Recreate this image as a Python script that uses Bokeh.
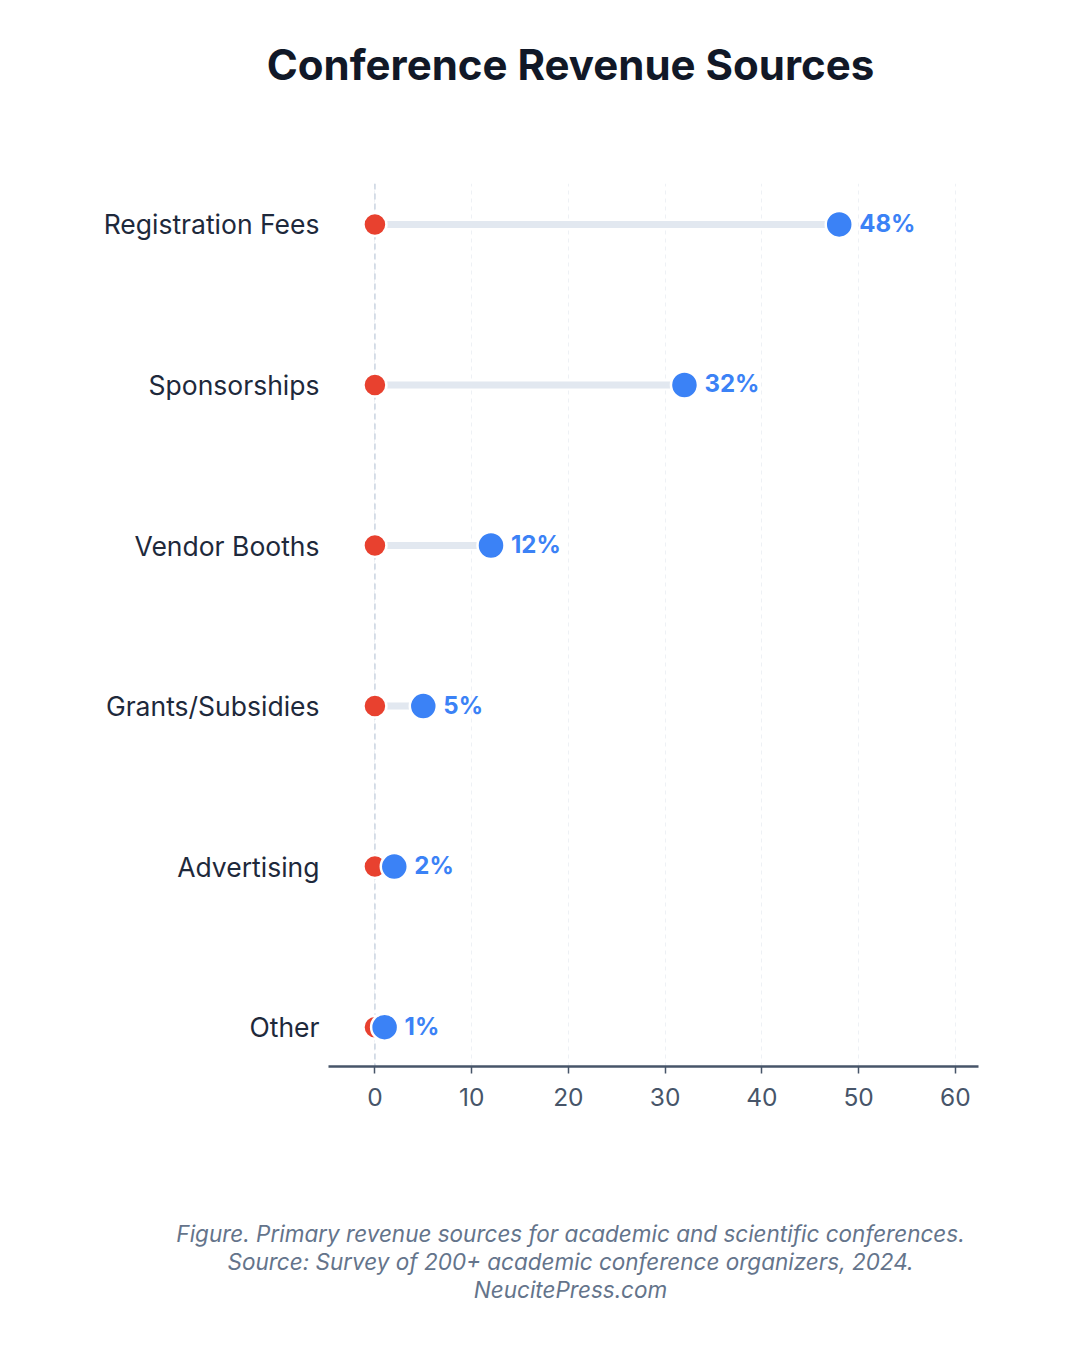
from bokeh.plotting import figure
from bokeh.models import ColumnDataSource, Range1d, FixedTicker, Span
from bokeh.layouts import column, row
from bokeh.core.properties import value
from bokeh.embed import file_html
from bokeh.resources import INLINE

# data, top to bottom as in the chart
categories = ["Registration Fees", "Sponsorships", "Vendor Booths", "Grants/Subsidies", "Advertising", "Other"]
shares = [48, 32, 12, 5, 2, 1]
baseline = [0, 0, 0, 0, 0, 0]
x_ticks = [0, 10, 20, 30, 40, 50, 60]

title_text = "Conference Revenue Sources"
caption = ["Figure. Primary revenue sources for academic and scientific conferences.",
           "Source: Survey of 200+ academic conference organizers, 2024.",
           "NeucitePress.com"]

FONT = "Inter"
W = 1064


def text_strip(h):
    # plain figure used only to hold text (y measured from top)
    f = figure(width=W, height=h, output_backend="svg", toolbar_location=None,
               x_range=Range1d(0, W), y_range=Range1d(h, 0),
               x_axis_location=None, y_axis_location=None,
               min_border=0, title=None)
    f.outline_line_color = None
    f.xgrid.grid_line_color = None
    f.ygrid.grid_line_color = None
    return f


# title
top = text_strip(183)
top.text(x=[570], y=[64], text=[title_text], text_align="center", text_baseline="middle",
         text_font=value(FONT), text_font_style="bold", text_font_size="42px",
         text_color="#111827")

# main chart
ypos = list(range(len(categories) - 1, -1, -1))

src = ColumnDataSource(dict(
    y=ypos,
    share=shares,
    base=baseline,
    lab=[str(s) + "%" for s in shares],
))

p = figure(width=W, height=963, output_backend="svg", toolbar_location=None,
           x_range=Range1d(-4.8, 62.4), y_range=Range1d(-0.245, 5.255),
           title=None, min_border_left=328, min_border_right=86,
           min_border_top=0, min_border_bottom=80)
p.outline_line_color = None

p.ygrid.grid_line_color = None
p.xgrid.ticker = FixedTicker(ticks=x_ticks)
p.xgrid.grid_line_color = "#eef1f5"
p.xgrid.grid_line_dash = "4 4"
p.xgrid.grid_line_width = 1

# zero line
p.add_layout(Span(location=0, dimension="height", line_color="#cbd5e1",
                  line_width=1.5, line_dash="6 4", level="underlay"))

# connectors
p.segment(x0="base", y0="y", x1="share", y1="y", source=src,
          line_color="#e2e8f0", line_width=7)

# dots
p.scatter(x="base", y="y", source=src, size=23, fill_color="#e8412f",
          line_color="white", line_width=2.5)
p.scatter(x="share", y="y", source=src, size=27, fill_color="#3b82f6",
          line_color="white", line_width=2.5)

# value labels
p.text(x="share", y="y", text="lab", source=src, x_offset=20, y_offset=-1,
       text_align="left", text_baseline="middle", text_color="#3b82f6",
       text_font=value(FONT), text_font_style="bold", text_font_size="24px")

p.xaxis.ticker = FixedTicker(ticks=x_ticks)
p.xaxis.axis_line_color = "#475569"
p.xaxis.axis_line_width = 2.5
p.xaxis.major_tick_line_color = "#475569"
p.xaxis.major_tick_line_width = 1.5
p.xaxis.major_tick_out = 7
p.xaxis.major_tick_in = 0
p.xaxis.minor_tick_line_color = None
p.xaxis.major_label_text_font = FONT
p.xaxis.major_label_text_font_size = "24.5px"
p.xaxis.major_label_text_color = "#475569"
p.xaxis.major_label_standoff = 14

p.yaxis.ticker = FixedTicker(ticks=ypos)
p.yaxis.major_label_overrides = {y: c for y, c in zip(ypos, categories)}
p.yaxis.axis_line_color = None
p.yaxis.major_tick_line_color = None
p.yaxis.minor_tick_line_color = None
p.yaxis.major_label_text_font = FONT
p.yaxis.major_label_text_font_size = "26.5px"
p.yaxis.major_label_text_color = "#1e293b"
p.yaxis.major_label_standoff = 3

# caption
bottom = text_strip(190)
bottom.text(x=[570] * len(caption), y=[87 + 28 * i for i in range(len(caption))], text=caption,
            text_align="center", text_baseline="middle", text_font=value(FONT),
            text_font_style="italic", text_font_size="22.5px", text_color="#64748b")

# wrap the text strips so their frames are not lined up with the chart frame
layout = column(row(top), p, row(bottom), spacing=0)
open("out.html", "w").write(file_html(layout, INLINE))
